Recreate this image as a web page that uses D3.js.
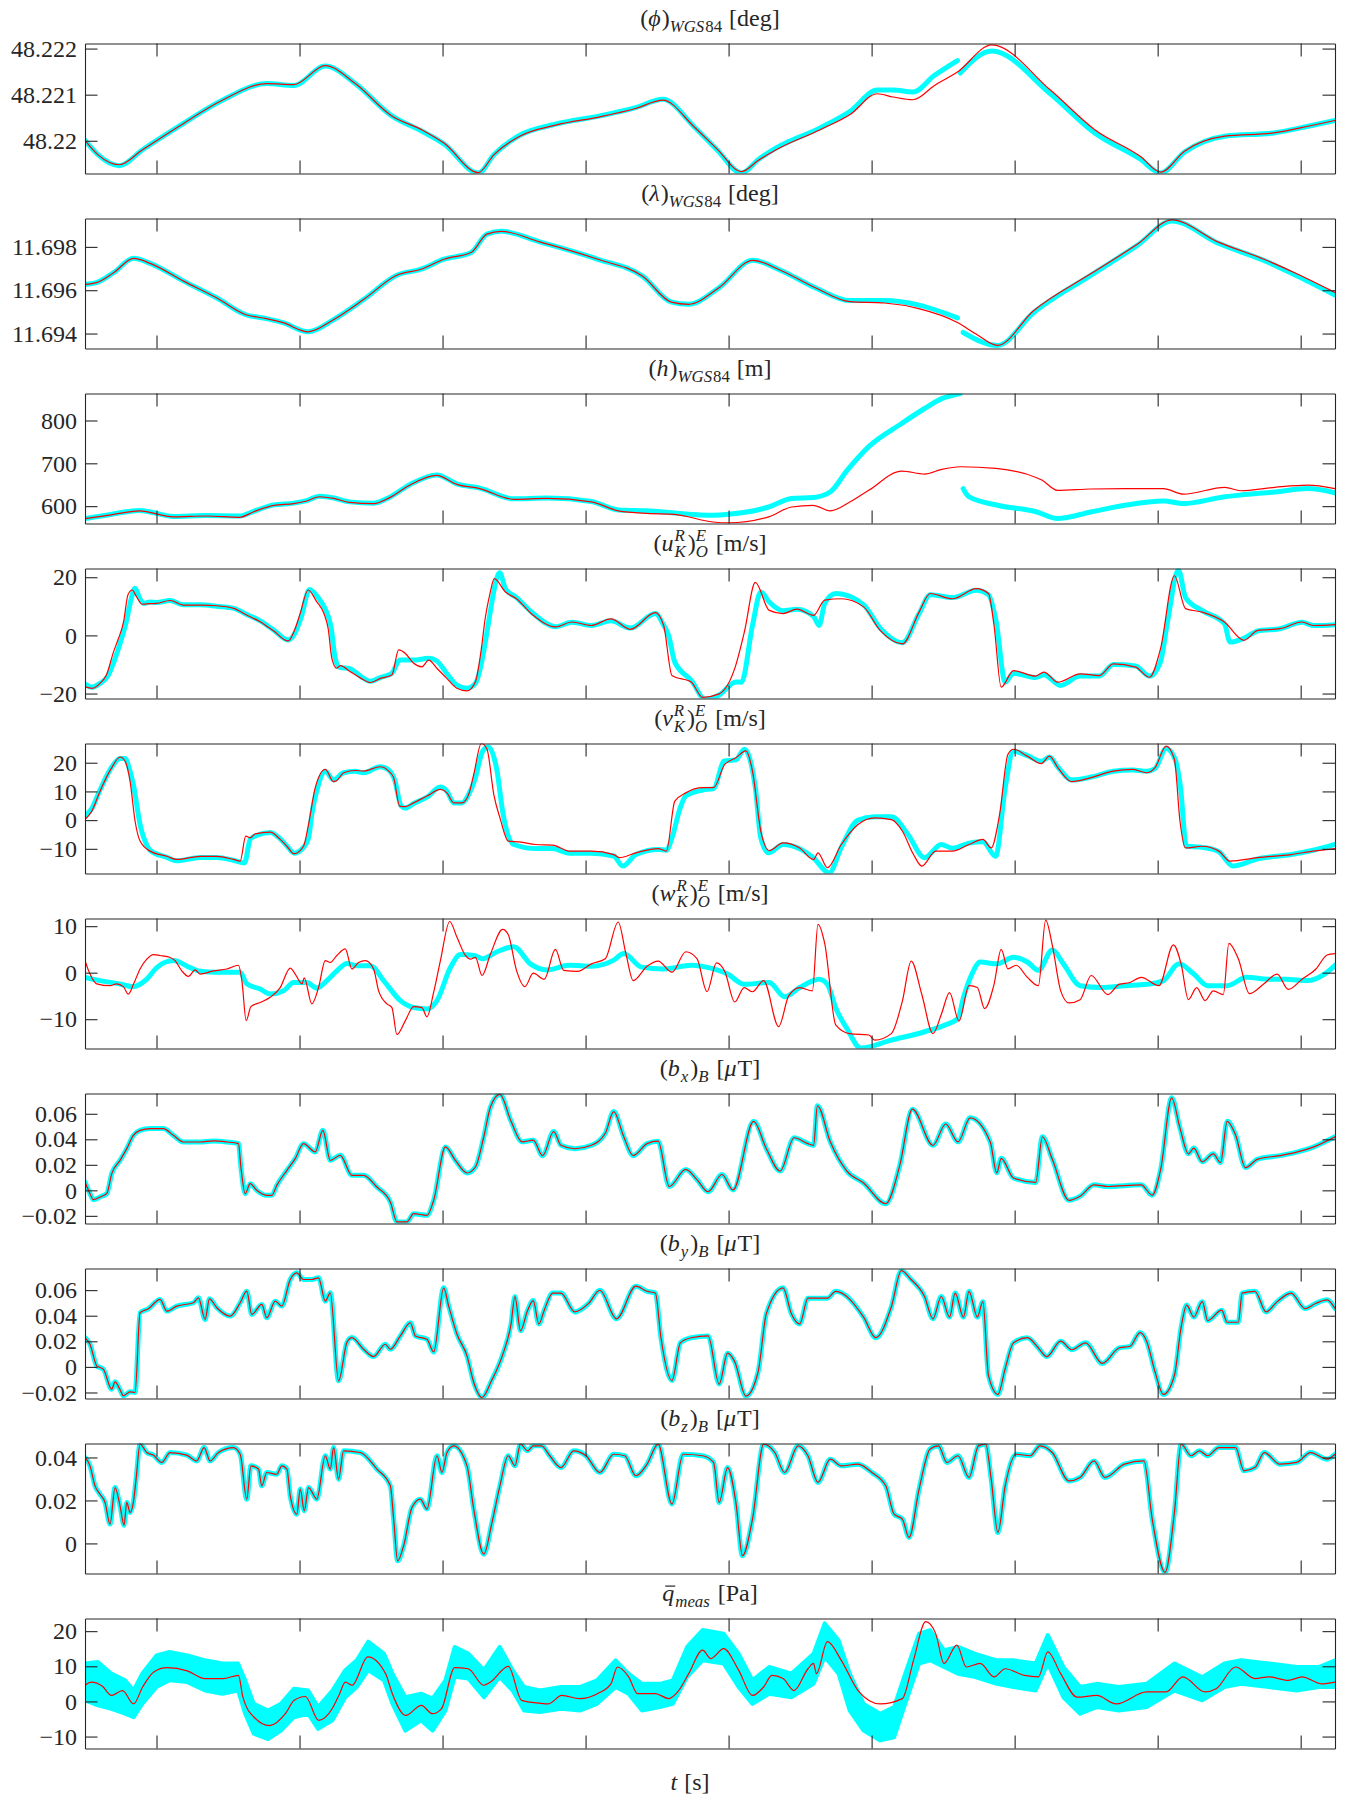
<!DOCTYPE html>
<html>
<head>
<meta charset="utf-8">
<script src="https://cdn.jsdelivr.net/npm/d3@7"></script>
<style>
body { margin: 0; background: #fff; }
svg text { font-family: "Liberation Serif", "DejaVu Serif", "Noto Serif", serif; fill: #262626; }
</style>
</head>
<body>
<svg id="fig" width="1346" height="1800" font-family="Liberation Serif, DejaVu Serif, serif"></svg>
<script>
// time axis (no tick labels in the figure)
var timeRange = [0, 874]
var timeTicks = [50, 150, 250, 350, 450, 550, 650, 750, 850]

// ---- latitude
var phiRange = [48.21929, 48.22211]
var phiTicks = [48.22, 48.221, 48.222]
var phiEst = [[0,48.22001],[9,48.2197],[24,48.21948],[40,48.2198],[65,48.2203],[96,48.22088],[127,48.22124],[146,48.22122],[168,48.22163],[189,48.22124],[214,48.22055],[236,48.22023],[251,48.21995],[275,48.21931],[286,48.2197],[304,48.2201],[329,48.22034],[360,48.22052],[385,48.2207],[404,48.22088],[426,48.2203],[442,48.21982],[459,48.21933],[471,48.21958],[483,48.2198],[514,48.22024],[535,48.22057],[554,48.22102],[565,48.22095],[579,48.22089],[594,48.2212],[610,48.22149],[634,48.22208],[675,48.2211],[706,48.22024],[738,48.21966],[752,48.21932],[769,48.21978],[797,48.2201],[831,48.22017],[856,48.22032],[874,48.22044]]
var phiMeas = [[0,48.22001],[9,48.2197],[24,48.21946],[40,48.2198],[65,48.2203],[96,48.22088],[127,48.22124],[146,48.2212],[168,48.22162],[189,48.22124],[214,48.22055],[236,48.2202],[251,48.21993],[275,48.2193],[286,48.2197],[304,48.22012],[329,48.22036],[360,48.22054],[385,48.22072],[404,48.2209],[426,48.2203],[442,48.2198],[459,48.2193],[471,48.2196],[483,48.21984],[514,48.22028],[535,48.22064],[554,48.2211],[565,48.2211],[579,48.22106],[594,48.22142],[610,48.22174],null,[612,48.22147],[634,48.22195],[675,48.22102],[706,48.22017],[738,48.2196],[752,48.2193],[769,48.21976],[797,48.2201],[831,48.22017],[856,48.22032],[874,48.22044]]

// ---- longitude
var lamRange = [11.69331, 11.69931]
var lamTicks = [11.694, 11.696, 11.698]
var lamEst = [[0,11.69627],[8,11.69635],[20,11.69681],[34,11.69747],[46,11.69723],[69,11.69642],[92,11.69565],[112,11.69488],[127,11.69469],[139,11.69449],[156,11.69408],[174,11.69465],[195,11.69558],[218,11.69669],[235,11.69697],[251,11.69743],[270,11.69774],[281,11.69859],[291,11.69872],[318,11.69823],[358,11.69744],[390,11.69664],[410,11.69545],[422,11.69535],[443,11.6961],[467,11.69738],[487,11.6969],[511,11.6961],[535,11.69547],[559,11.69541],[583,11.69515],[610,11.69451],[623,11.69398],[638,11.69345],[663,11.69504],[704,11.69679],[736,11.69813],[760,11.69925],[792,11.69823],[824,11.69744],[848,11.69674],[874,11.6959]]
var lamMeas = [[0,11.69627],[8,11.69635],[20,11.69681],[34,11.69747],[46,11.69723],[69,11.69642],[92,11.69565],[112,11.69488],[127,11.69469],[139,11.69449],[156,11.69408],[174,11.69465],[195,11.69558],[218,11.69669],[235,11.69697],[251,11.69743],[270,11.69774],[281,11.69859],[291,11.69872],[318,11.69823],[358,11.69744],[390,11.69664],[410,11.69545],[422,11.69535],[443,11.6961],[467,11.69738],[487,11.6969],[511,11.6961],[535,11.69552],[559,11.69552],[583,11.69531],[610,11.69472],null,[614,11.69405],[638,11.69345],[663,11.69495],[704,11.69672],[736,11.69808],[760,11.6992],[792,11.69818],[824,11.69738],[848,11.69665],[874,11.69578]]

// ---- height
var hRange = [559.5, 863]
var hTicks = [600, 700, 800]
var hEst = [[0,571],[17,579],[38,589],[62,575],[85,577],[108,574],[118,587],[132,602],[146,606],[155,612],[164,622],[174,618],[185,609],[202,606],[213,620],[227,649],[246,672],[260,651],[276,641],[300,616],[323,618],[354,610],[373,589],[393,583],[412,581],[439,563],[450,561],[478,575],[494,598],[509,602],[521,589],[533,606],[548,637],[571,682],[587,675],[599,686],[612,692],[637,688],[665,667],[669,661],[680,637],[703,640],[727,641],[754,641],[768,628],[797,644],[808,636],[832,644],[855,649],[874,641]]
var hMeas = [[0,571],[17,580],[38,590],[62,576],[85,578],[108,577],[118,588],[132,603],[146,607],[155,613],[164,623],[174,619],[185,610],[202,607],[213,621],[227,650],[246,673],[260,652],[276,642],[300,617],[323,619],[354,611],[373,591],[393,589],[412,584],[439,579],[450,581],[478,598],[494,618],[509,620],[521,633],[533,684],[548,739],[571,793],[587,828],[599,851],[612,863],null,[614,641],[618,622],[638,602],[665,587],[680,571],[704,587],[727,602],[754,612],[768,606],[797,622],[808,626],[832,633],[855,641],[874,631]]

// ---- velocity north / east / down
var uRange = [-21.7, 23]
var uTicks = [-20, 0, 20]
var uEst = [[0,-17.7],[5,-18.2],[10.5,-16.5],[15,-13.6],[20,-5.6],[23,-1.6],[27,4.7],[30,13.9],[33,15.6],[36,13.3],[40,10.7],[45.5,10.9],[50,11],[59.5,12],[69,10.4],[80.5,10.4],[92,10.2],[104,9.3],[113,7],[122.5,4.7],[132,1.5],[142,-1.9],[147,2.4],[150.5,7.6],[156,15.6],[162,11.6],[167,7.6],[170,2.4],[172.6,-7.9],[176,-11.3],[178.5,-10.4],[185.5,-12.5],[192.5,-14.6],[199.5,-16.2],[206.5,-14.8],[214.6,-13.6],[219.3,-5],[224,-6.2],[229.8,-9.6],[235.6,-10.8],[240.3,-8.5],[246,-11.3],[253,-14.8],[260,-18.2],[267,-19.1],[273,-15.9],[276.5,-6.8],[280,6.4],[283,14],[286.2,19.5],[294,14.9],[301.7,12.6],[313.4,6.9],[329,2.9],[340.6,4.6],[354,3.4],[367.7,5.7],[381.3,2.1],[398.8,7.8],[404.6,3.4],[410.4,-13.8],[424,-16.1],[431.8,-21.3],[443.4,-20.1],[455,-10.3],[461,1.1],[468.7,18.2],[478.4,8.6],[488,7.5],[497.8,9],[509.4,6.9],[517.2,12.1],[528.8,12.6],[544.4,9.8],[556,1.7],[571.5,-2.9],[583.2,8],[591,14.4],[606.5,12.6],[623.2,16.1],[631.7,14.4],[635.6,3.4],[640.6,-17.8],[649.2,-12.1],[664.7,-14],[670.5,-12.6],[680.2,-16.1],[695.8,-13.2],[709.3,-13.8],[719,-9.8],[734.6,-10.9],[744.3,-14.4],[752,-4.6],[761.7,20.5],[769.5,9.2],[781.2,8],[796.7,4.6],[810.3,-1.7],[820,1.7],[835.5,2.3],[851,4.6],[858.8,3.4],[874,3.7]]
var uMeas = [[0,-16.8],[5,-17.8],[10.5,-16.5],[16,-14],[21,-8],[25,-2],[29,5],[32,12],[35,16.2],[38,13],[41,11],[45.5,11.5],[50,11.3],[59.5,12],[69,10.5],[80.5,10.5],[92,10],[104,9.3],[113,7.2],[122.5,5],[132,1.8],[142,-1.6],[147,1],[151,6],[157,15.8],[163,13],[168,9],[172,3],[175,-8],[178,-11],[185.5,-11.5],[192.5,-14],[199.5,-15.8],[206.5,-14.5],[214.6,-13],[220,-8.5],[229.8,-8.5],[240.3,-7.9],[246,-8.8],[253,-13.1],[260,-17.1],[267,-18.2],[273,-16.5],[277,-10],[280,-2],[284,10],[287,18],[290,21.5],[294,16],[301.7,13],[313.4,7.5],[329,3],[340.6,4.5],[354,3.4],[367.7,5],[381.3,2.5],[398.8,7.5],[404.6,3.5],[408,0],[412.4,-9.2],[424,-15.5],[433.7,-22],[443.4,-20.5],[455,-16],[459,-16.1],[466.7,3.4],[472.5,14.9],[478.4,11.5],[488,8.5],[497.8,9],[509.4,6.5],[513.3,3.4],[517.2,11],[525,14.4],[544.4,10.5],[556,2.5],[571.5,-2.5],[583.2,7.5],[591,14],[606.5,13],[623.2,15.5],[631.7,14],[637,5],[643.4,-16.1],[649.2,-13],[664.7,-14.5],[670.5,-13.5],[682,-17.2],[695.8,-14],[709.3,-14],[719,-10],[734.6,-10.5],[744.3,-14],[752,-9],[757,5],[764.5,22.5],[769.5,13],[781.2,8.5],[796.7,4],[800.6,-2.3],[810.3,-1],[820,1.5],[835.5,2.3],[851,4.5],[858.8,3.4],[874,3.7]]

var vRange = [-18.6, 26.7]
var vTicks = [-10, 0, 10, 20]
var vEst = [[0,0.2],[4.7,3.1],[10.5,10.1],[18.7,18.3],[24.5,22],[28,20.6],[31.5,13.6],[35,-0.3],[38.5,-7.3],[45.5,-10.8],[57.2,-12.6],[64.2,-13.7],[80.5,-12.6],[92.2,-12.6],[103.8,-13.7],[108.5,-14.3],[112.4,-5.6],[115.5,-6.2],[119,-4.8],[129.5,-4.2],[136.5,-6.7],[141.2,-9.1],[146.3,-11.7],[152.8,-9.1],[156.3,-1.5],[161,11.3],[168,17.7],[173.8,13.4],[176.1,13.8],[180.8,16.5],[189,17.3],[194.8,17.1],[206.5,18.6],[212.3,17.1],[215.8,14.8],[220,4.9],[224,4.7],[229.8,6],[239.1,8.4],[248.5,10.7],[253.1,9.5],[257.8,6],[263.6,6],[268.3,9],[271.8,15.9],[277.1,26.7],[281.1,24.7],[285.8,9],[290.5,0.2],[295.9,-7.3],[303.7,-7.6],[315.3,-8.5],[327,-8.7],[338.6,-10.8],[354.1,-10.8],[369.7,-12],[373.5,-13.1],[385.2,-11.4],[400.7,-9.9],[406.5,-10.8],[412.4,6.6],[420.1,9.5],[431.8,11.3],[439.5,11.3],[447.3,19.4],[455.1,21.7],[462.1,24.1],[466.7,17.1],[472.5,-3.8],[478.4,-10.6],[488.1,-7.9],[499.7,-9.7],[509.4,-13.7],[512.5,-11.4],[519.1,-16.6],[528.8,-8.5],[540.5,-1.5],[552.1,0.8],[563.8,0.2],[571.5,-3.8],[579.3,-12],[585.1,-16],[594.8,-10.8],[606.5,-10.8],[618.1,-8.5],[627.8,-6.7],[633.6,-9.7],[639.5,2],[645.3,22.9],[649.2,24.7],[658.9,22.3],[668.6,19.7],[674.4,22.3],[680.2,18.3],[689.9,13.4],[703.5,14.8],[719,17.1],[732.6,17.7],[742.3,16.5],[748.2,18.3],[755.9,25.8],[761.7,21.2],[765.6,-0.3],[769.5,-9.7],[781.2,-9.1],[792.8,-10.8],[800.6,-14.3],[820,-13.1],[843.3,-12],[858.8,-10.8],[874,-9.9]]
var vMeas = [[0,1.4],[4.7,4],[10.5,10.5],[18.7,18.5],[24.5,21.5],[28,21.5],[31.5,17],[33.8,12.4],[38.5,-1.5],[43,-8.5],[45.5,-10.5],[57.2,-13],[64.2,-14.2],[80.5,-13],[92.2,-13],[103.8,-14],[111.5,-14.9],[115.5,-6.7],[119,-5.5],[129.5,-4.3],[136.5,-6.5],[141.2,-9],[146.3,-11.5],[152.8,-9.5],[156.3,-6.2],[158.6,2],[163,12],[168,17],[173.8,14],[180.8,16.5],[189,17],[194.8,16.5],[206.5,18.6],[212.3,17.5],[216.5,14],[221,5],[224,4.2],[229.8,5.8],[239.1,8],[248.5,11.5],[253.1,10],[257.8,6],[263.6,6],[268.3,9],[272.5,14],[278,24],[282,25.5],[288.1,17.1],[292,3.1],[299.8,-8.5],[315.3,-9.9],[327,-9.9],[338.6,-11.5],[354.1,-11.5],[369.7,-12.5],[376,-16],[385.2,-12],[400.7,-10.2],[406.5,-10.5],[410.4,-6.2],[416,4],[420.1,8.5],[431.8,10.5],[439.5,11],[447,20.6],[455.1,21],[461,24.7],[468.7,11.3],[472.5,-6.2],[478,-11.4],[488.1,-8.5],[499.7,-10],[509.4,-13.2],[520.3,-18.4],[528.8,-9.5],[540.5,0],[552.1,1.2],[563.8,1.2],[575.4,-5],[587,-13.1],[598.7,-8.5],[606.5,-9.8],[618.1,-8],[627.8,-7.5],[636.7,-12.6],[643.4,11.3],[649.2,24],[658.9,22.5],[668.6,20.5],[674.4,22],[680.2,18.5],[689.9,14],[703.5,15],[719,17],[732.6,17.5],[742.3,17],[748.2,18],[755.9,25],[762,21.5],[766,11.3],[770,-9],[781.2,-9.5],[792.8,-11],[802.5,-16],[820,-13.5],[843.3,-12],[858.8,-10.5],[874,-8.5]]

var wRange = [-16.3, 11.65]
var wTicks = [-10, 0, 10]
var wEst = [[0,2.6],[3.5,-0.3],[8.2,-2.4],[17.5,-2.8],[22.2,-2.4],[26.8,-3],[30.3,-4.6],[34,-2.4],[38.5,0.8],[43.2,2.9],[47.8,3.9],[52.5,3.7],[58.3,3.4],[63,2.6],[67.7,0.4],[72.3,-0.8],[77,0.6],[80.5,-0.3],[89.8,0.4],[99.2,0.8],[107.3,1.6],[109.7,-1.7],[112.7,-10.3],[116,-7.3],[122.5,-6.4],[129.5,-5.3],[136.5,-3.2],[143.5,1],[147,-0.3],[151.7,-2.4],[153.3,-1.1],[158.6,-6.7],[163.3,-3.2],[168,2.6],[171.5,2.2],[176.1,3.7],[182,5.1],[186.6,0.8],[191.3,2.2],[196,2.6],[201.8,0.8],[205.3,-3.9],[211.1,-6.7],[214.6,-7.5],[218.1,-13.3],[224,-10.3],[229.8,-7.3],[235.6,-7.5],[239.1,-9.5],[243.8,-4.2],[248.5,2.6],[255,11],[260.1,7.6],[266,3.7],[269.5,2.9],[273,3.3],[277.6,-0.6],[283.5,4],[292,9.3],[295.9,8.2],[301.7,0.5],[307.6,-3],[313.4,-0.1],[321.1,-1.4],[328.9,5],[334.7,0.5],[344.4,0.3],[354.1,1.9],[363.8,3],[372.8,10.9],[378.2,4.1],[383.3,-1.7],[393,1.4],[400.7,2.5],[410.4,0.1],[420.1,4.5],[427.9,3],[434.9,-4.1],[441.5,2.1],[447.3,0.3],[454.3,-6.3],[460.9,-3.2],[466.7,-4.1],[474.5,-1.7],[485,-11.6],[492,-5],[499.7,-3.2],[508.6,-3.9],[512.5,10.4],[517.2,6.3],[524.9,-11.2],[534.7,-13.1],[548.2,-13.4],[552.1,-14.5],[563.8,-13.1],[571.5,-6.1],[577.7,2.5],[585.1,-4.7],[592.9,-13.1],[598.7,-9],[604.5,-4.3],[611.1,-10.4],[618.1,-2.8],[623.9,-3.2],[629,-7.7],[635.6,-2.5],[640.6,5],[645.3,0.8],[651.1,1.6],[658.9,-1],[666.6,-2.8],[671.7,11.3],[676.3,6],[682.2,-3.9],[688,-6.5],[695.8,-5.8],[703.5,-0.6],[715.2,-4.7],[723,-2.5],[730.7,-2.1],[738.5,-1],[750.9,-2.8],[761,6],[766.4,1.9],[771.5,-5.8],[777.3,-3.2],[783.1,-6],[788.9,-3.9],[795.9,-4.7],[799.8,6.3],[806.4,3],[814.2,-4.5],[823.9,-2.5],[833.6,-0.3],[841.3,-3.6],[851,-1.4],[860.7,0.8],[868.5,3.8],[874,4.1]]
var wMeas = [[0,-1],[10.5,-1.7],[22.2,-2.3],[33.8,-3],[43.2,-1.4],[50.2,1.1],[61.8,2.6],[73.5,1.1],[80.5,0.3],[92.2,0.1],[108.5,0.1],[113.1,-2.4],[122.5,-3.5],[129.5,-4.6],[138.8,-3.9],[145.8,-2.1],[155.1,-2.1],[162.1,-3.3],[169.1,-1.7],[176.1,0.4],[183.1,2],[190.1,1.5],[199.5,1.5],[208.8,-1.7],[220.5,-6],[229.8,-7.5],[239.1,-7.8],[246.1,-6],[255.5,1.1],[262.5,3.9],[271.8,3.7],[278,3],[288.1,4.5],[299.8,5.6],[311.4,1.9],[323.1,0.6],[338.6,1.6],[354.1,1.4],[369.7,2.7],[376.7,4.1],[389.1,1.2],[404.6,0.8],[424,1.6],[439.5,0.8],[449.3,-0.3],[460.9,-2.5],[478.4,-2.1],[489.2,-5.2],[499.7,-3.2],[513.3,-1.4],[519.1,-2.5],[524.9,-7.6],[532.7,-12],[542.4,-16.2],[563.8,-14.5],[587,-12.7],[602.6,-11.1],[610.4,-9.8],[614.2,-5.4],[620.1,-0.3],[625.9,2.3],[637.5,1.9],[649.2,3.3],[658.9,2.3],[666.6,0.5],[676.3,4.9],[684.1,1.9],[695.8,-2.8],[711.3,-3.2],[726.8,-2.8],[742.3,-2.5],[754,-1.7],[764.9,1.9],[775.3,-0.3],[785,-2.8],[798.6,-2.8],[812.2,-1],[827.7,-1.4],[839.4,-1.4],[854.9,-1.7],[866.6,-0.3],[874,1.6]]

// ---- magnetic field: measurement and estimate overlap, read once
var bxRange = [-0.026, 0.0759]
var bxTicks = [-0.02, 0, 0.02, 0.04, 0.06]
var bxTrack = [[0,0.0065],[3.5,-0.0026],[5.8,-0.0073],[10.5,-0.0052],[15.2,-0.0026],[18.7,0.0131],[24.5,0.0235],[29.2,0.0327],[33.8,0.0431],[38.5,0.047],[45.5,0.0484],[54.8,0.0484],[61.8,0.0431],[68.8,0.0379],[80.5,0.0379],[89.8,0.0387],[99.2,0.0379],[107.3,0.0366],[109,0.0183],[112,-0.0026],[115.5,0.0052],[120.1,0],[127.1,-0.0039],[130.6,-0.0039],[134.1,0.0039],[141.2,0.0157],[147,0.0248],[152.8,0.0366],[161,0.0301],[166.3,0.047],[171.5,0.0235],[178.5,0.0274],[186.6,0.0118],[194.8,0.0118],[204.1,0.0026],[213.5,-0.0091],[218.1,-0.0248],[225.1,-0.0248],[229.8,-0.0183],[239.1,-0.0196],[243.8,-0.0078],[252,0.034],[259,0.0235],[267.1,0.0136],[273,0.0183],[278.8,0.0418],[283.5,0.0653],[290.1,0.0752],[297.9,0.0541],[305.6,0.038],[313.4,0.0393],[320,0.0272],[327.7,0.0461],[332.8,0.0353],[342.5,0.0326],[354.1,0.0353],[363.8,0.0447],[369.7,0.0617],[376.7,0.042],[383.3,0.0272],[393,0.0366],[400.7,0.0385],[408.5,0.003],[420.1,0.0164],[427.9,0.0084],[435.7,-0.0011],[445.4,0.0124],[453.1,0.0003],[467.5,0.0541],[476.4,0.0326],[486.1,0.0151],[495.8,0.0412],[505.5,0.0366],[509.4,0.0353],[512.1,0.0663],[521.1,0.038],[532.7,0.0151],[544.4,0.0057],[559.9,-0.0105],[569.6,0.0191],[578.5,0.0636],[592.9,0.0353],[601.8,0.052],[610.4,0.038],[618.9,0.0568],[632.9,0.038],[637.5,0.0137],[640.6,0.0251],[649.2,0.0097],[664.7,0.0062],[669.4,0.042],[676.3,0.0245],[688,-0.0078],[695.8,-0.0046],[705.5,0.0043],[715.2,0.003],[738.5,0.0043],[746.2,-0.0038],[752.1,0.0164],[759.8,0.0725],[765.6,0.0488],[771.5,0.0286],[775.3,0.0331],[781.2,0.0224],[788.9,0.0286],[794,0.0218],[798.6,0.0541],[804.5,0.0434],[811.4,0.0178],[820,0.0245],[835.5,0.0272],[847.2,0.0299],[858.8,0.0339],[874,0.042]]

var byRange = [-0.0247, 0.0769]
var byTicks = [-0.02, 0, 0.02, 0.04, 0.06]
var byTrack = [[0,0.0229],[3.5,0.0177],[8.2,0.0008],[12.8,-0.0018],[18.7,-0.0174],[21,-0.0117],[24.5,-0.0179],[26.8,-0.0226],[31.5,-0.0195],[35,-0.02],[38.5,0.0423],[44.3,0.0454],[52.5,0.0527],[57.2,0.0436],[64.2,0.0475],[75.8,0.0501],[79.3,0.054],[84,0.0371],[87,0.0532],[92.2,0.0462],[101.5,0.0397],[108.5,0.0501],[113.1,0.0592],[116.6,0.041],[123.6,0.0488],[127.1,0.0384],[133,0.0514],[137.6,0.0475],[143.5,0.0683],[148.1,0.0735],[152.8,0.0683],[158.6,0.0683],[163.3,0.0696],[168,0.0514],[171.5,0.0579],[177.3,-0.0109],[183.1,0.019],[186.6,0.0229],[194.8,0.0138],[201.8,0.0081],[210,0.0177],[213.5,0.0138],[220.5,0.0242],[227.5,0.0345],[231,0.0242],[239.1,0.0216],[243.8,0.0117],[250.8,0.0618],[254.3,0.0475],[260.1,0.0255],[267.1,0.0086],[271.8,-0.0122],[277.6,-0.0239],[284.3,-0.0107],[292,0.0094],[297.9,0.0336],[300.6,0.055],[304.5,0.0282],[309.5,0.0443],[313.4,0.0518],[317.3,0.0336],[321.1,0.0443],[327,0.0577],[332.8,0.0577],[342.5,0.043],[352.2,0.0497],[360,0.0599],[371.6,0.0376],[385.2,0.0631],[393,0.0591],[398.8,0.0577],[402.7,0.0228],[410.4,-0.0107],[416.3,0.0188],[424,0.0228],[435.7,0.0242],[443.4,-0.0134],[449.3,0.0107],[454.3,0.004],[462.1,-0.0228],[470.6,-0.004],[476.4,0.0416],[488.1,0.0618],[493.9,0.0416],[499.7,0.0336],[505.5,0.0537],[519.1,0.0537],[524.9,0.0591],[544.4,0.0389],[552.9,0.0228],[563.8,0.047],[570.8,0.0752],[577.4,0.0685],[587,0.055],[592.9,0.0376],[598.7,0.055],[604.5,0.0389],[608.4,0.0577],[614.2,0.0389],[618.1,0.0591],[623.9,0.0389],[627.8,0.051],[631.7,-0.0067],[638.3,-0.0215],[643.4,-0.0013],[649.2,0.0188],[658.9,0.0228],[666.6,0.0148],[672.5,0.0081],[682.2,0.0201],[689.9,0.0134],[699.6,0.0188],[711.3,0.0027],[723,0.0148],[730.7,0.0161],[737.7,0.0268],[742.3,0.0201],[748.2,-0.004],[754,-0.0215],[761.7,-0.0067],[766.4,0.0309],[770.3,0.0483],[775.3,0.0389],[781.2,0.051],[785,0.0362],[794.8,0.0443],[798.6,0.0349],[806.4,0.0349],[809.1,0.0577],[818,0.0591],[825.8,0.043],[833.6,0.051],[843.3,0.0577],[853,0.0456],[860.7,0.0497],[868.5,0.0524],[874,0.0456]]

var bzRange = [-0.014, 0.0465]
var bzTicks = [0, 0.02, 0.04]
var bzTrack = [[0,0.04],[3.5,0.0361],[7,0.0268],[10.5,0.0229],[14,0.0191],[17.5,0.009],[21,0.026],[24.5,0.0175],[27.3,0.0085],[29.2,0.0191],[31.5,0.0144],[33.8,0.0191],[35.7,0.0299],[38.5,0.0462],[43.2,0.0423],[47.8,0.0411],[53.7,0.0377],[59.5,0.0423],[71.2,0.0411],[78.1,0.0384],[83.3,0.0446],[87.5,0.0384],[93.3,0.0423],[103.8,0.0446],[108.5,0.0415],[113.1,0.0206],[116,0.0361],[121.3,0.0346],[123.6,0.0268],[127.1,0.033],[134.1,0.0322],[137.6,0.0361],[141.2,0.0346],[143.5,0.0222],[148.1,0.0136],[150.5,0.0253],[153.3,0.0152],[156.3,0.026],[162.1,0.0206],[168,0.0408],[171.5,0.0346],[173.8,0.0446],[177.3,0.0299],[180.8,0.0431],[192.5,0.0423],[204.1,0.0346],[213.5,0.0268],[215.8,0.0113],[218.6,-0.0081],[222.8,-0.0011],[228.6,0.0167],[234.5,0.0206],[239.1,0.016],[246.1,0.0408],[249.6,0.033],[253.1,0.0423],[257.8,0.0454],[267.1,0.0361],[271.8,0.016],[278.8,-0.005],[284.6,0.0098],[290.1,0.0268],[295.9,0.0408],[300.6,0.0361],[304.5,0.0462],[309.5,0.0431],[313.4,0.0454],[319.2,0.0454],[325,0.0408],[332.8,0.0353],[341.7,0.0431],[350.3,0.0408],[360,0.033],[369.7,0.0415],[377.4,0.0408],[385.2,0.0315],[393,0.0369],[400.7,0.0462],[410.4,0.0183],[418.2,0.0415],[431.8,0.0408],[439.5,0.0377],[443.4,0.0191],[449.3,0.0353],[455.1,0.0191],[459.7,-0.0057],[466.7,0.0113],[474.5,0.0462],[482.3,0.0423],[489.2,0.033],[498.6,0.0454],[505.5,0.0408],[512.5,0.0284],[521.1,0.0392],[528.8,0.0361],[540.5,0.0369],[550.2,0.033],[559.9,0.0268],[565.7,0.0136],[571.5,0.0113],[576.2,0.0028],[583.2,0.0253],[590.9,0.0439],[596.8,0.0454],[602.6,0.0377],[610.4,0.0408],[618.1,0.0307],[624.7,0.0454],[629.8,0.0462],[633.6,0.0299],[638.3,0.0051],[643.4,0.0268],[651.1,0.0415],[660.8,0.0408],[667.8,0.0454],[676.3,0.0423],[688,0.0291],[695.8,0.0307],[705.5,0.0384],[713.2,0.0307],[726.8,0.0369],[740.4,0.0384],[746.2,0.0113],[755.2,-0.0135],[761.7,0.0144],[766.4,0.0462],[773.4,0.0408],[779.2,0.0431],[785,0.0408],[792.8,0.0446],[804.5,0.0446],[810.3,0.0338],[818,0.0353],[824.6,0.0423],[835.5,0.0369],[847.2,0.0377],[856.9,0.0423],[868.5,0.0392],[874,0.0415]]

// ---- dynamic pressure: noisy measurement cloud given as its band edges
var qRange = [-13.4, 23.6]
var qTicks = [-10, 0, 10, 20]
var qEst = [[0,4.6],[4.4,5.5],[12.2,4.3],[18.5,1.7],[26.2,3.1],[34,-0.7],[40.3,4.1],[48.1,8.4],[57.4,9.6],[71.5,8.7],[83.9,6.5],[96.4,6.5],[107.3,7.4],[110.4,1.2],[118.2,-4.5],[129.1,-6.9],[140.1,-3.5],[146.3,0.3],[154.1,1.4],[163.4,-5.4],[172.8,-2.1],[177.5,1.7],[182.1,5.5],[186.8,4.6],[197.7,12.7],[210.2,7.9],[214.9,2.2],[224.2,-4],[235.2,-1.1],[242.9,-3.5],[249.2,-2.1],[258.5,9.6],[267.9,9.3],[278.8,4.6],[283.5,5.5],[296,10],[305.3,0.3],[317.8,-0.5],[324,-0.7],[333.4,1.7],[345.8,0.8],[358.3,2.2],[367.7,5],[372.3,9.8],[380.1,7],[386.4,2.2],[398.8,2.2],[408.2,0.8],[414.4,2.7],[422.1,7.9],[431.8,14.6],[437.6,12.2],[446.5,15],[457,8.9],[466.7,1.7],[474.5,4.1],[480.3,7.4],[488.1,6.5],[495.8,3.1],[505.5,9.3],[509.4,10.8],[511.4,7.9],[519.1,17],[528.8,11.7],[540.5,3.1],[556,-0.7],[571.5,0.8],[579.3,11.7],[587.8,22.7],[594.8,19.3],[600.6,10.8],[609.6,16],[616.2,9.8],[625.9,10.8],[635.6,7],[643.4,9.3],[656.9,7.4],[666.6,7],[673.2,14.1],[682.2,7.9],[693.8,1.2],[707.4,1.7],[721,-0.7],[742.3,2.7],[755.9,2.7],[767.6,7],[783.1,2.7],[790.9,3.6],[804.5,9.8],[818,6.5],[827.7,7],[841.3,6],[851,7],[864.6,5],[874,5.5]]
var qBandT  = [0,9,18.5,28,34,40,50,59,71.5,84,96,107,112,118,128,137,146,156,163,173,182,190,198,209,215,224,235,243,252,258.5,268,279,290,299,307,318,333,346,358,371,380,389.5,402,411,421,431.8,446.5,457,466.7,478.4,493.9,509.4,517.2,526.9,534.7,544.4,556,565.7,573.5,583.2,590.9,600.6,610.4,622,637.5,649.2,664.7,673.2,684.1,695.8,707.4,722.9,742.3,761.8,781.2,796.7,808.3,827.7,847.2,862.7,874]
var qBandLo = [0.3,-1.1,-2.1,-3.5,-4.5,-0.7,4.1,6,5.5,3.1,2.2,3.1,-3.5,-9.2,-10.7,-8.3,-4.5,-3.5,-7.8,-5.4,1.2,4.1,8.9,6,-0.7,-8.3,-5.4,-8.3,-2.6,7,6.5,1.2,7,3.1,-2.6,-3,-2.1,-2.6,-0.7,4.1,2.2,-2.6,-1.6,-0.7,7,11.7,10.8,4.1,-0.7,2.2,1.2,5,12.7,7.9,-2.6,-8.3,-11.1,-10.2,-0.7,10.8,11.7,9.8,7.9,7,5,4.1,3.1,10.8,1.2,-3.5,-1.6,-2.6,-1.6,3.1,0.3,4.1,5,4.1,3.1,4.1,4.1]
var qBandHi = [10.8,11.2,7.9,6,3.1,7.9,13.1,14.1,13.1,11.7,10.8,10.8,6,-0.7,-2.6,-0.7,3.6,3.1,-1.6,3.1,8.9,11.7,17,13.6,7.9,1.2,2.2,0.8,6,15.5,13.6,8.9,15.5,8.9,4.1,3.1,4.1,4.1,6,11.7,7.9,5,5,6,15.5,20.3,19.3,13.6,6,9.8,7.9,13.6,22.2,17.4,7.9,-0.7,-3.5,-1.6,7.9,19.3,20.3,14.6,15.5,13.6,11.7,11.7,10.8,18.9,9.8,4.1,5,4.1,5,10.8,6.9,10.8,11.7,10.8,9.8,9.8,11.7]

// ---- titles: pieces of the math labels
var titles = [
  [{t:'('},{t:'\u03D5',i:1},{t:')'},{sub:[{t:'WGS',i:1},{t:'84'}]},{gap:6},{t:'[deg]'}],
  [{t:'('},{t:'\u03BB',i:1},{t:')'},{sub:[{t:'WGS',i:1},{t:'84'}]},{gap:6},{t:'[deg]'}],
  [{t:'('},{t:'h',i:1},{t:')'},{sub:[{t:'WGS',i:1},{t:'84'}]},{gap:6},{t:'[m]'}],
  [{t:'('},{t:'u',i:1},{sup:[{t:'R',i:1}],sub:[{t:'K',i:1}]},{t:')'},{sup:[{t:'E',i:1}],sub:[{t:'O',i:1}]},{gap:6},{t:'[m/s]'}],
  [{t:'('},{t:'v',i:1},{sup:[{t:'R',i:1}],sub:[{t:'K',i:1}]},{t:')'},{sup:[{t:'E',i:1}],sub:[{t:'O',i:1}]},{gap:6},{t:'[m/s]'}],
  [{t:'('},{t:'w',i:1},{sup:[{t:'R',i:1}],sub:[{t:'K',i:1}]},{t:')'},{sup:[{t:'E',i:1}],sub:[{t:'O',i:1}]},{gap:6},{t:'[m/s]'}],
  [{t:'('},{t:'b',i:1},{sub:[{t:'x',i:1}]},{t:')'},{sub:[{t:'B',i:1}]},{gap:6},{t:'['},{t:'\u03BC',i:1},{t:'T]'}],
  [{t:'('},{t:'b',i:1},{sub:[{t:'y',i:1}]},{t:')'},{sub:[{t:'B',i:1}]},{gap:6},{t:'['},{t:'\u03BC',i:1},{t:'T]'}],
  [{t:'('},{t:'b',i:1},{sub:[{t:'z',i:1}]},{t:')'},{sub:[{t:'B',i:1}]},{gap:6},{t:'['},{t:'\u03BC',i:1},{t:'T]'}],
  [{t:'q',i:1,bar:1},{sub:[{t:'meas',i:1}]},{gap:6},{t:'[Pa]'}]
]

var panels = [
  {range: phiRange, ticks: phiTicks, meas: phiMeas, est: phiEst},
  {range: lamRange, ticks: lamTicks, meas: lamMeas, est: lamEst},
  {range: hRange, ticks: hTicks, meas: hMeas, est: hEst},
  {range: uRange, ticks: uTicks, meas: uMeas, est: uEst},
  {range: vRange, ticks: vTicks, meas: vMeas, est: vEst},
  {range: wRange, ticks: wTicks, meas: wMeas, est: wEst},
  {range: bxRange, ticks: bxTicks, meas: bxTrack, est: bxTrack},
  {range: byRange, ticks: byTicks, meas: byTrack, est: byTrack},
  {range: bzRange, ticks: bzTicks, meas: bzTrack, est: bzTrack},
  {range: qRange, ticks: qTicks, band: true, est: qEst}
]

var FONT = 'Liberation Serif, DejaVu Serif, serif'
var svg = d3.select('#fig')
svg.append('rect').attr('width', 1346).attr('height', 1800).attr('fill', '#fff')

var left = 85, right = 1335, top0 = 43.5, ph = 130, step = 175
var fs = 24
var axisColor = '#262626'
var x = d3.scaleLinear().domain(timeRange).range([left, right])

function fmt(v) {
    return String(v).replace('-', '\u2212')
}

function drawTitle(parts, cx, base) {
    var g = svg.append('g')
    var small = fs * 0.7
    var pos = 0
    function run(items, x0, dy, size) {
        var xx = x0
        items.forEach(function (p) {
            var el = g.append('text')
                .attr('x', xx).attr('y', base + dy)
                .attr('font-family', FONT)
                .attr('font-size', size)
                .attr('font-style', p.i ? 'italic' : 'normal')
                .text(p.t)
            var w = el.node().getComputedTextLength()
            if (p.bar) {
                g.append('line')
                    .attr('x1', xx + 3).attr('x2', xx + w + 1)
                    .attr('y1', base - size * 0.6).attr('y2', base - size * 0.6)
                    .attr('stroke', axisColor).attr('stroke-width', 1.2)
            }
            xx += w + (p.i ? 1 : 0)
        })
        return xx - x0
    }
    parts.forEach(function (p) {
        if (p.gap) pos += p.gap
        else if (p.t) pos += run([p], pos, 0, fs)
        else {
            var w1 = p.sup ? run(p.sup, pos, -fs * 0.4, small) : 0
            var w2 = p.sub ? run(p.sub, pos, fs * 0.28, small) : 0
            pos += Math.max(w1, w2) + 1
        }
    })
    g.attr('transform', 'translate(' + (cx - pos / 2) + ',0)')
}

panels.forEach(function (p, k) {
    var top = top0 + k * step
    var bottom = top + ph
    var y = d3.scaleLinear().domain(p.range).range([bottom, top])

    svg.append('clipPath').attr('id', 'clip' + k)
        .append('rect').attr('x', left).attr('y', top).attr('width', right - left).attr('height', ph)

    var plot = svg.append('g').attr('clip-path', 'url(#clip' + k + ')')
    var line = d3.line()
        .defined(function (d) { return d !== null })
        .x(function (d) { return x(d[0]) })
        .y(function (d) { return y(d[1]) })
        .curve(d3.curveMonotoneX)

    if (p.band) {
        var band = qBandT.map(function (t, i) { return [t, qBandLo[i], qBandHi[i]] })
        var area = d3.area()
            .x(function (d) { return x(d[0]) })
            .y0(function (d) { return y(d[1]) })
            .y1(function (d) { return y(d[2]) })
        plot.append('path').attr('d', area(band))
            .attr('fill', '#00ffff').attr('stroke', '#00ffff').attr('stroke-width', 4)
            .attr('stroke-linejoin', 'round')
    } else {
        plot.append('path').attr('d', line(p.meas))
            .attr('fill', 'none').attr('stroke', '#00ffff').attr('stroke-width', 5)
            .attr('stroke-linecap', 'round').attr('stroke-linejoin', 'round')
    }
    plot.append('path').attr('d', line(p.est))
        .attr('fill', 'none').attr('stroke', '#ff0000').attr('stroke-width', 1.2)
        .attr('stroke-linejoin', 'round')

    // axes, ticks pointing inward on all four sides
    var gl = svg.append('g').attr('transform', 'translate(' + left + ',0)')
        .call(d3.axisLeft(y).tickValues(p.ticks).tickFormat(fmt).tickSizeInner(-12.5).tickSizeOuter(0).tickPadding(8))
    gl.attr('font-family', FONT).attr('font-size', fs)
    gl.selectAll('text').attr('font-size', fs).attr('font-family', FONT)
    svg.append('g').attr('transform', 'translate(' + right + ',0)')
        .call(d3.axisRight(y).tickValues(p.ticks).tickFormat('').tickSizeInner(-12.5).tickSizeOuter(0))
    svg.append('g').attr('transform', 'translate(0,' + bottom + ')')
        .call(d3.axisBottom(x).tickValues(timeTicks).tickFormat('').tickSizeInner(-13).tickSizeOuter(0))
    svg.append('g').attr('transform', 'translate(0,' + top + ')')
        .call(d3.axisTop(x).tickValues(timeTicks).tickFormat('').tickSizeInner(-13).tickSizeOuter(0))

    drawTitle(titles[k], (left + right) / 2, top - 18)
})

svg.selectAll('.domain, .tick line').attr('stroke', axisColor).attr('stroke-width', 1.1)
svg.selectAll('.tick text').attr('fill', axisColor)

// x label
drawTitle([{t:'t',i:1},{gap:6},{t:'[s]'}], 690, 1790)
</script>
</body>
</html>
